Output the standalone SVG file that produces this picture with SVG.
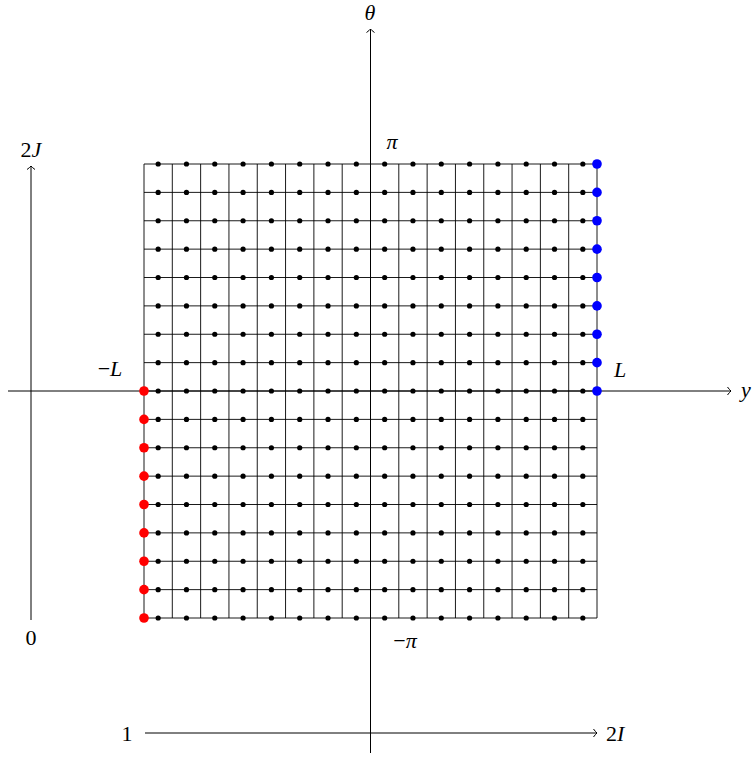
<svg xmlns="http://www.w3.org/2000/svg" xmlns:xlink="http://www.w3.org/1999/xlink" width="756" height="759" viewBox="0 0 756 759">
<style>
.ax{stroke:#000;stroke-width:1;fill:none;marker-end:url(#arr)}
.grid{stroke:#000;stroke-width:0.9;fill:none}
.t{font-family:"Liberation Serif","DejaVu Serif",serif;font-size:22px;fill:#000}
.i{font-style:italic}
.bd{fill:#000}
.red{fill:#ff0000}
.blue{fill:#0000ff}
</style>
<defs>
<marker id="arr" markerUnits="userSpaceOnUse" markerWidth="12" markerHeight="12" viewBox="-6 -6 12 12" refX="0" refY="0" orient="auto">
<path d="M-3.5,-4 Q-1.5,-1.2 0,0 Q-1.5,1.2 -3.5,4" fill="none" stroke="#000" stroke-width="1"/>
</marker>
<g id="row">
<circle cx="158.16" cy="0" r="2.6"/><circle cx="186.47" cy="0" r="2.6"/><circle cx="214.78" cy="0" r="2.6"/><circle cx="243.09" cy="0" r="2.6"/>
<circle cx="271.41" cy="0" r="2.6"/><circle cx="299.72" cy="0" r="2.6"/><circle cx="328.03" cy="0" r="2.6"/><circle cx="356.34" cy="0" r="2.6"/>
<circle cx="384.66" cy="0" r="2.6"/><circle cx="412.97" cy="0" r="2.6"/><circle cx="441.28" cy="0" r="2.6"/><circle cx="469.59" cy="0" r="2.6"/>
<circle cx="497.91" cy="0" r="2.6"/><circle cx="526.22" cy="0" r="2.6"/><circle cx="554.53" cy="0" r="2.6"/><circle cx="582.84" cy="0" r="2.6"/>
</g>
</defs>
<rect width="756" height="759" fill="#fff"/>
<g id="connectors">
<path class="ax" d="M8 391H731"/>
<path class="ax" d="M370.5 753V29"/>
<path class="ax" d="M31 620V166"/>
<path class="ax" d="M145 733H597"/>
</g>
<g id="grid">
<path class="grid" d="M144 164H597M144 192.375H597M144 220.75H597M144 249.125H597M144 277.5H597M144 305.875H597M144 334.25H597M144 362.625H597M144 391H597M144 419.375H597M144 447.75H597M144 476.125H597M144 504.5H597M144 532.875H597M144 561.25H597M144 589.625H597M144 618H597"/>
<path class="grid" d="M144 164V618M172.31 164V618M200.63 164V618M228.94 164V618M257.25 164V618M285.56 164V618M313.88 164V618M342.19 164V618M370.5 164V618M398.81 164V618M427.13 164V618M455.44 164V618M483.75 164V618M512.06 164V618M540.38 164V618M568.69 164V618M597 164V618"/>
</g>
<g id="black-dots" class="bd">
<use xlink:href="#row" y="164"/><use xlink:href="#row" y="192.375"/><use xlink:href="#row" y="220.75"/><use xlink:href="#row" y="249.125"/>
<use xlink:href="#row" y="277.5"/><use xlink:href="#row" y="305.875"/><use xlink:href="#row" y="334.25"/><use xlink:href="#row" y="362.625"/>
<use xlink:href="#row" y="391"/><use xlink:href="#row" y="419.375"/><use xlink:href="#row" y="447.75"/><use xlink:href="#row" y="476.125"/>
<use xlink:href="#row" y="504.5"/><use xlink:href="#row" y="532.875"/><use xlink:href="#row" y="561.25"/><use xlink:href="#row" y="589.625"/>
<use xlink:href="#row" y="618"/>
</g>
<g id="red-dots" class="red">
<circle cx="144" cy="391" r="4.8"/><circle cx="144" cy="419.375" r="4.8"/><circle cx="144" cy="447.75" r="4.8"/><circle cx="144" cy="476.125" r="4.8"/>
<circle cx="144" cy="504.5" r="4.8"/><circle cx="144" cy="532.875" r="4.8"/><circle cx="144" cy="561.25" r="4.8"/><circle cx="144" cy="589.625" r="4.8"/>
<circle cx="144" cy="618" r="4.8"/>
</g>
<g id="blue-dots" class="blue">
<circle cx="597" cy="164" r="4.8"/><circle cx="597" cy="192.375" r="4.8"/><circle cx="597" cy="220.75" r="4.8"/><circle cx="597" cy="249.125" r="4.8"/>
<circle cx="597" cy="277.5" r="4.8"/><circle cx="597" cy="305.875" r="4.8"/><circle cx="597" cy="334.25" r="4.8"/><circle cx="597" cy="362.625" r="4.8"/>
<circle cx="597" cy="391" r="4.8"/>
</g>
<g id="labels">
<text class="t i" x="370" y="20" text-anchor="middle">θ</text>
<text class="t i" x="741" y="397">y</text>
<text class="t" x="31" y="157" text-anchor="middle">2<tspan class="i">J</tspan></text>
<text class="t" x="31" y="645" text-anchor="middle">0</text>
<text class="t" x="127" y="741" text-anchor="middle">1</text>
<text class="t" x="606" y="741">2<tspan class="i">I</tspan></text>
<text class="t i" x="392" y="149" text-anchor="middle">π</text>
<text class="t" x="405" y="648" text-anchor="middle">−<tspan class="i">π</tspan></text>
<text class="t" x="110" y="376" text-anchor="middle">−<tspan class="i">L</tspan></text>
<text class="t i" x="620" y="377" text-anchor="middle">L</text>
</g>
</svg>
